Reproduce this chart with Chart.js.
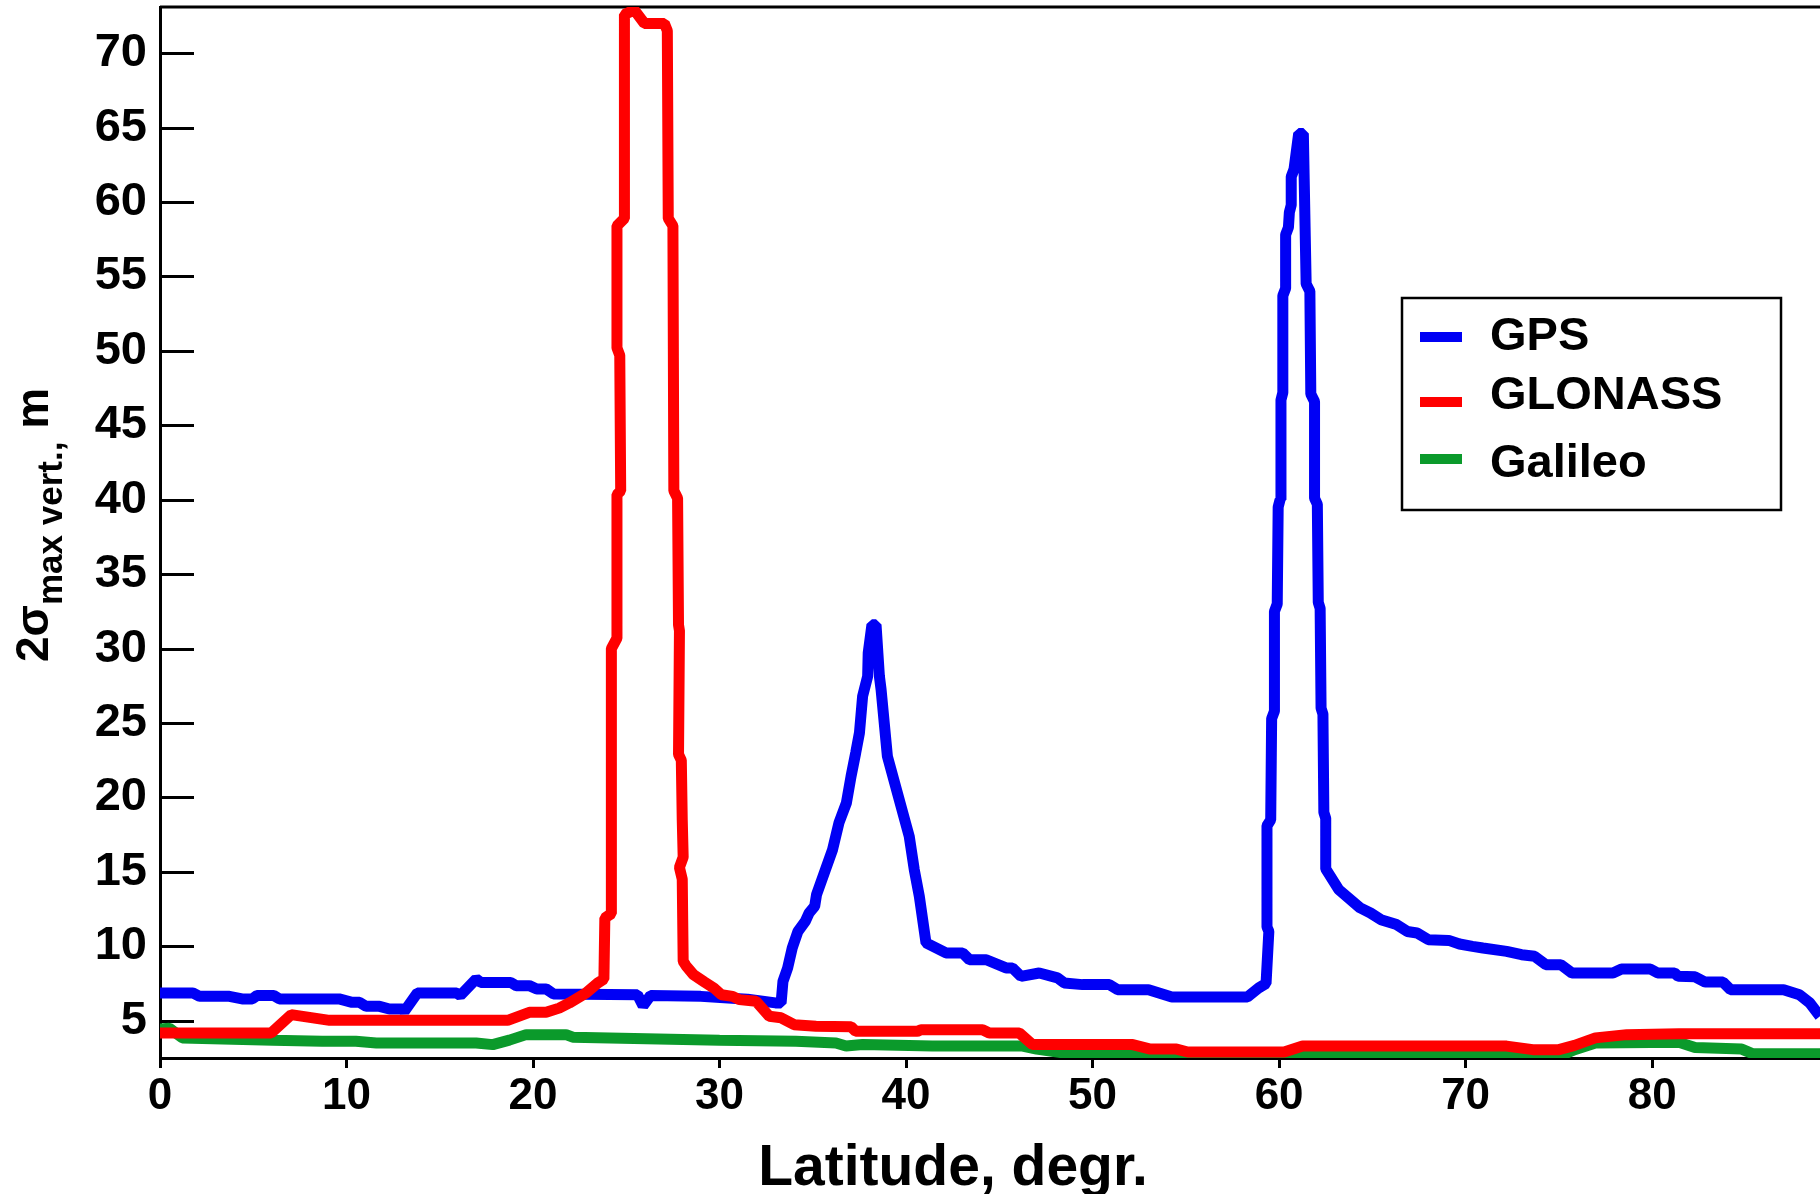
<!DOCTYPE html>
<html>
<head>
<meta charset="utf-8">
<script src="https://cdn.jsdelivr.net/npm/chart.js@4.4.1/dist/chart.umd.min.js"></script>
<style>
  html, body { margin: 0; padding: 0; background: #fff; }
  #wrap { width: 1820px; height: 1194px; }
</style>
</head>
<body>
<div id="wrap"><canvas id="grafico"></canvas></div>
<script>
// latitude (deg) / 2sigma (m)
const gpsLat = [0, 1.76, 2.12, 3.72, 4.4, 4.95, 5.2, 6.1, 6.4, 9.6, 10.3, 10.7, 11.05, 11.77, 12.3, 13.0, 13.1, 13.8, 15.9, 16.1, 16.95, 17.2, 18.8, 19.1, 19.8, 20.2, 20.7, 21.1, 25.6, 25.9, 26.3, 29.0, 31.5, 33.0,
  33.3, 33.4, 33.65, 33.9, 34.2, 34.6, 34.8, 35.1, 35.2, 36.06, 36.4, 36.8, 37.05, 37.3, 37.5, 37.67, 37.94, 37.97, 38.17, 38.39, 38.57, 38.66, 39.0, 40.17, 40.44, 40.71, 41.07,
  42.14, 43.03, 43.4, 44.3, 45.36, 45.7, 46.16, 47.14, 48.12, 48.48, 49.46, 50.9, 51.34, 53.0, 54.25, 58.3, 58.9, 59.3,
  59.45, 59.35, 59.35, 59.55, 59.6, 59.75, 59.75, 59.9, 59.95, 60.05, 60.1, 60.2, 60.2, 60.35, 60.35, 60.5, 60.55, 60.65, 60.65, 60.8, 61.05, 61.3,
  61.45, 61.65, 61.7, 61.9, 61.9, 62.05, 62.1, 62.2, 62.25, 62.35, 62.4, 62.5, 62.5,
  63.2, 64.35, 64.9, 65.46, 66.3, 66.87, 67.4, 68.0, 69.1, 69.67, 70.37, 70.93, 72.2, 73.0, 73.7, 74.3, 75.1, 75.7, 77.9, 78.36, 79.9, 80.3, 81.2, 81.4, 82.3, 82.84, 83.8, 84.2, 87.05, 87.9, 88.45, 89.0];
const gpsVal = [6.87, 6.87, 6.64, 6.64, 6.47, 6.47, 6.7, 6.7, 6.47, 6.47, 6.24, 6.24, 5.97, 5.97, 5.79, 5.79, 5.63, 6.87, 6.87, 6.7, 7.81, 7.58, 7.58, 7.36, 7.36, 7.14, 7.14, 6.8, 6.75, 6.0, 6.7, 6.64, 6.45, 6.2,
  6.2, 7.65, 8.55, 9.9, 11.0, 11.68, 12.24, 12.69, 13.47, 16.5, 18.29, 19.63, 21.42, 23.0, 24.34, 26.8, 28.14, 29.7, 31.6, 31.6, 28.14, 27.25, 22.76, 17.39, 15.15, 13.36, 10.23,
  9.56, 9.56, 9.1, 9.1, 8.55, 8.55, 7.98, 8.21, 7.88, 7.54, 7.43, 7.43, 7.09, 7.09, 6.6, 6.6, 7.2, 7.5,
  11.0, 11.3, 18.1, 18.5, 25.3, 25.8, 32.5, 33.0, 39.5, 40.0, 46.7, 47.2, 53.7, 54.2, 57.8, 58.3, 59.3, 59.8, 61.7, 62.2, 64.6, 64.6,
  54.5, 54.0, 47.1, 46.6, 40.1, 39.7, 33.1, 32.7, 26.0, 25.6, 19.0, 18.6, 15.2,
  13.81, 12.58, 12.24, 11.79, 11.46, 11.0, 10.9, 10.45, 10.4, 10.16, 10.0, 9.89, 9.66, 9.44, 9.33, 8.77, 8.77, 8.21, 8.21, 8.48, 8.48, 8.21, 8.21, 7.99, 7.95, 7.6, 7.6, 7.09, 7.09, 6.75, 6.2, 5.3];

const glonassLat = [0, 5.96, 7.03, 9.09, 18.64, 19.8, 20.7, 21.4, 21.95, 22.84, 23.47, 23.8,
  23.85, 24.2, 24.2, 24.5, 24.5, 24.7, 24.65, 24.5, 24.5, 24.9, 24.9, 25.43, 25.97, 27.04, 27.2,
  27.25, 27.5, 27.55, 27.75, 27.8, 27.85, 27.8, 27.95, 28.0, 28.05, 27.85, 28.0, 28.05,
  28.2, 28.6, 29.2, 29.7, 30.1, 30.7, 31.06, 31.96, 32.67, 33.3, 34.0, 35.17, 37.05, 37.3, 40.6, 40.8, 44.1, 44.46, 46.07, 46.78,
  52.15, 53.1, 54.5, 55.1, 60.27, 61.26, 72.2, 73.6, 75.0, 75.84, 76.96, 78.64, 81.44, 89.0];
const glonassVal = [4.18, 4.18, 5.41, 5.03, 5.03, 5.57, 5.57, 5.85, 6.2, 6.87, 7.54, 7.8,
  11.9, 12.2, 30.0, 30.7, 40.35, 40.6, 49.7, 50.2, 58.4, 58.9, 72.6, 72.9, 72.0, 72.0, 71.5,
  58.9, 58.4, 40.6, 40.1, 31.6, 31.2, 22.9, 22.5, 18.5, 16.0, 15.3, 14.5, 9.0,
  8.7, 8.1, 7.6, 7.2, 6.75, 6.64, 6.42, 6.31, 5.3, 5.2, 4.74, 4.63, 4.6, 4.29, 4.29, 4.4, 4.4, 4.18, 4.18, 3.4,
  3.4, 3.1, 3.1, 2.9, 2.9, 3.3, 3.3, 3.06, 3.06, 3.35, 3.85, 4.07, 4.13, 4.13];

const galileoLat = [0, 0.5, 1.2, 6.05, 8.7, 10.5, 11.6, 16.95, 17.84, 18.73, 19.63, 21.77, 22.13, 30.0, 34.1, 36.24, 36.78, 37.67, 41.4, 46.25, 47.0, 48.93,
  60.4, 61.0, 62.5, 63.8, 75.0, 75.84, 76.96, 81.44, 82.3, 84.8, 85.4, 89.0];
const galileoVal = [4.45, 4.5, 3.85, 3.7, 3.62, 3.62, 3.51, 3.51, 3.4, 3.7, 4.07, 4.07, 3.9, 3.7, 3.62, 3.51, 3.3, 3.4, 3.3, 3.3, 3.1, 2.75,
  2.6, 2.8, 2.8, 2.6, 2.6, 3.06, 3.51, 3.55, 3.2, 3.1, 2.78, 2.78];

const xTicks = [0, 10, 20, 30, 40, 50, 60, 70, 80];
const yTicks = [5, 10, 15, 20, 25, 30, 35, 40, 45, 50, 55, 60, 65, 70];
const seriesNames = ['GPS', 'GLONASS', 'Galileo'];

const cores = { gps: '#0000f5', glonass: '#ff0000', galileo: '#0b9a2b' };
const fonte = "'Liberation Sans', Arial, sans-serif";
Chart.defaults.font.family = fonte;

function pontos(lat, val) {
  return lat.map((x, i) => ({ x: x, y: val[i] }));
}

// inward y ticks + top frame line
const moldura = {
  id: 'moldura',
  beforeDatasetsDraw(chart) {
    const { ctx, chartArea } = chart;
    const y = chart.scales.y;
    ctx.save();
    ctx.strokeStyle = '#000';
    ctx.lineWidth = 3;
    y.ticks.forEach(t => {
      const py = Math.round(y.getPixelForValue(t.value)) + 0.5;
      ctx.beginPath();
      ctx.moveTo(chartArea.left, py);
      ctx.lineTo(chartArea.left + 34, py);
      ctx.stroke();
    });
    ctx.beginPath();
    ctx.moveTo(chartArea.left, chartArea.top);
    ctx.lineTo(chartArea.right, chartArea.top);
    ctx.stroke();
    ctx.restore();
  }
};

// axis titles (y title has a subscript) and boxed legend
const textos = {
  id: 'textos',
  afterDraw(chart) {
    const ctx = chart.ctx;
    ctx.save();
    ctx.fillStyle = '#000';

    ctx.font = 'bold 57px ' + fonte;
    ctx.textAlign = 'center';
    ctx.textBaseline = 'alphabetic';
    ctx.fillText('Latitude, degr.', 953, 1185);

    const grande = 'bold 46px ' + fonte;
    const pequena = 'bold 35px ' + fonte;
    ctx.translate(48, 525);
    ctx.rotate(-Math.PI / 2);
    ctx.textAlign = 'left';
    ctx.font = grande;
    const w1 = ctx.measureText('2σ').width;
    const w3 = ctx.measureText(' m').width;
    ctx.font = pequena;
    const w2 = ctx.measureText('max vert.,').width;
    let x0 = -(w1 + w2 + w3) / 2;
    ctx.font = grande;
    ctx.fillText('2σ', x0, 0);
    ctx.font = pequena;
    ctx.fillText('max vert.,', x0 + w1, 14);
    ctx.font = grande;
    ctx.fillText(' m', x0 + w1 + w2, 0);
    ctx.restore();

    ctx.save();
    ctx.strokeStyle = '#000';
    ctx.lineWidth = 2.5;
    ctx.strokeRect(1402, 298, 379, 212);
    const linhaY = [337, 402, 459];
    const textoY = [350, 409, 477];
    ctx.font = 'bold 47px ' + fonte;
    ctx.textAlign = 'left';
    chart.data.datasets.forEach((ds, i) => {
      ctx.fillStyle = ds.borderColor;
      ctx.fillRect(1420, linhaY[i] - 5, 42, 10);
      ctx.fillStyle = '#000';
      ctx.fillText(ds.label, 1490, textoY[i]);
    });
    ctx.restore();
  }
};

new Chart(document.getElementById('grafico'), {
  type: 'line',
  data: {
    datasets: [
      { label: seriesNames[0], data: pontos(gpsLat, gpsVal), borderColor: cores.gps, order: 2 },
      { label: seriesNames[1], data: pontos(glonassLat, glonassVal), borderColor: cores.glonass, order: 0 },
      { label: seriesNames[2], data: pontos(galileoLat, galileoVal), borderColor: cores.galileo, order: 1 }
    ]
  },
  options: {
    responsive: true,
    maintainAspectRatio: false,
    animation: false,
    layout: { padding: { top: 7, left: 0, right: 0, bottom: 0 } },
    elements: {
      point: { radius: 0 },
      line: { borderWidth: 11, borderJoinStyle: 'bevel', tension: 0, fill: false }
    },
    plugins: {
      legend: { display: false },
      tooltip: { enabled: false }
    },
    scales: {
      x: {
        type: 'linear',
        min: 0,
        max: 89,
        afterBuildTicks: s => { s.ticks = xTicks.map(v => ({ value: v })); },
        afterFit: s => { s.height = 136; s.paddingLeft = 0; s.paddingRight = 0; },
        grid: { drawOnChartArea: false, tickLength: 10, tickWidth: 3, tickColor: '#000' },
        border: { color: '#000', width: 3 },
        ticks: { color: '#000', font: { size: 44, weight: 'bold' }, padding: 2, maxRotation: 0 }
      },
      y: {
        type: 'linear',
        min: 2.5,
        max: 73.1,
        afterBuildTicks: s => { s.ticks = yTicks.map(v => ({ value: v })); },
        afterFit: s => { s.width = 160; s.paddingTop = 0; s.paddingBottom = 0; },
        grid: { display: false, drawTicks: false },
        border: { color: '#000', width: 3 },
        ticks: { color: '#000', font: { size: 47, weight: 'bold' }, padding: 13 }
      }
    }
  },
  plugins: [moldura, textos]
});
</script>
</body>
</html>
